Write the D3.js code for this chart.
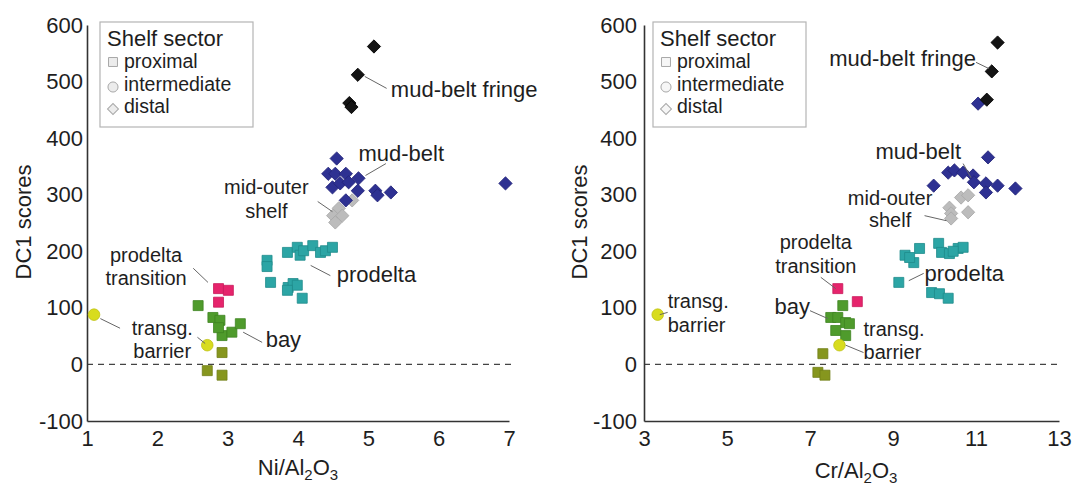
<!DOCTYPE html>
<html><head><meta charset="utf-8">
<script src="https://cdn.jsdelivr.net/npm/d3@7"></script>
<style>
body{margin:0;background:#fff}
svg text{font-family:"Liberation Sans",Arial,Helvetica,sans-serif;fill:#1e1e1e}
</style>
</head><body>
<svg id="c" width="1072" height="486"></svg>
<script>
// ---------- data ----------
const yTicks = [-100, 0, 100, 200, 300, 400, 500, 600];
const niTicks = [1, 2, 3, 4, 5, 6, 7];
const crTicks = [3, 5, 7, 9, 11, 13];
const legendLabels = ["proximal", "intermediate", "distal"];

// Ni/Al2O3 vs DC1 scores
const niFringe = [[5.08,562],[4.85,512],[4.73,462],[4.76,455]];
const niMudBelt = [[4.55,364],[4.43,337],[4.53,337],[4.68,337],[4.49,313],[4.60,320],[4.72,322],[4.86,329],[4.85,307],[4.68,290],[5.10,307],[5.13,299],[5.32,304],[6.95,320]];
const niMidOuter = [[4.77,290],[4.58,276],[4.50,263],[4.63,263],[4.53,251]];
const niProdelta = [[3.56,184],[3.56,173],[3.85,198],[3.99,207],[4.03,193],[4.08,201],[4.21,210],[4.32,198],[4.39,201],[4.49,207],[3.61,145],[3.86,136],[3.93,143],[3.99,140],[4.06,117],[3.85,131]];
const niTransition = [[2.87,134],[3.01,131],[2.87,110]];
const niBay = [[2.58,104],[2.79,83],[2.89,78],[2.92,51],[3.06,57],[3.18,72],[2.87,65]];
const niBayLow = [[2.92,21],[2.71,-11],[2.92,-19]];
const niBarrier = [[1.10,88],[2.71,34]];

// Cr/Al2O3 vs DC1 scores
const crFringe = [[11.52,569],[11.38,518],[11.26,468]];
const crMudBelt = [[11.05,461],[11.29,366],[10.33,339],[10.48,343],[10.69,339],[10.93,334],[10.95,322],[11.24,320],[11.24,304],[11.52,316],[11.95,311],[9.98,316]];
const crMidOuter = [[10.64,295],[10.81,299],[10.36,277],[10.40,267],[10.81,269],[10.40,258]];
const crProdelta = [[9.29,193],[9.50,180],[9.64,205],[9.40,189],[10.10,214],[10.17,198],[10.36,196],[10.57,205],[10.69,207],[10.45,200],[9.14,145],[9.93,127],[10.12,125],[10.33,117]];
const crTransition = [[7.67,134],[8.14,111]];
const crBay = [[7.79,104],[7.50,83],[7.67,83],[7.86,74],[7.95,72],[7.62,60],[7.86,51]];
const crBayLow = [[7.31,19],[7.19,-14],[7.36,-19]];
const crBarrier = [[3.33,88],[7.71,34]];

// annotation labels (in data units)
const niNotes = [
  {lines:["mud-belt fringe"], x:5.32, ys:[473], anchor:"start", leader:[[4.95,509],[5.26,488]]},
  {lines:["mud-belt"], x:4.86, ys:[360], anchor:"start", leader:[[4.96,334],[5.25,355]]},
  {lines:["mid-outer","shelf"], x:3.55, ys:[300.4,259.7], anchor:"middle", leader:[[4.28,288],[4.49,270]]},
  {lines:["prodelta"], x:4.55, ys:[145], anchor:"start", leader:[[4.18,175],[4.46,157]]},
  {lines:["prodelta","transition"], x:1.84, ys:[181.1,140.4], anchor:"middle", leader:[[2.51,170],[2.72,145]]},
  {lines:["transg.","barrier"], x:2.07, ys:[52.0,11.4], anchor:"middle", leader:[[1.19,81],[1.47,64]]},
  {lines:[], x:0, ys:[], anchor:"start", leader:[[2.57,48],[2.68,37]]},
  {lines:["bay"], x:3.54, ys:[30], anchor:"start", leader:[[3.22,57],[3.49,39]]}
];
const crNotes = [
  {lines:["mud-belt fringe"], x:11.0, ys:[528], anchor:"end", leader:[[11.0,534],[11.31,523]]},
  {lines:["mud-belt"], x:10.64, ys:[364], anchor:"end", leader:[[10.69,355],[10.88,330]]},
  {lines:["mid-outer","shelf"], x:8.93, ys:[282.7,242.1], anchor:"middle", leader:[[9.76,263],[10.29,254]]},
  {lines:["prodelta","transition"], x:7.14, ys:[203.2,162.5], anchor:"middle", leader:[[7.26,154],[7.62,134]]},
  {lines:["prodelta"], x:9.76, ys:[148], anchor:"start", leader:[[9.38,148],[9.74,161]]},
  {lines:["bay"], x:7.0, ys:[90], anchor:"end", leader:[[7.0,95],[7.43,81]]},
  {lines:["transg.","barrier"], x:8.29, ys:[50.3,9.6], anchor:"start", leader:[[7.86,34],[8.29,21]]},
  {lines:["transg.","barrier"], x:3.57, ys:[98.9,58.2], anchor:"start", leader:[[3.38,88],[3.57,92]]}
];

// ---------- styles ----------
const styles = {
  fringe:{shape:"diamond", fill:"#141414", stroke:"#000"},
  mudBelt:{shape:"diamond", fill:"#2e3192", stroke:"#23257a"},
  midOuter:{shape:"diamond", fill:"#bcbcbc", stroke:"#a8a8a8"},
  prodelta:{shape:"square", fill:"#2ca5a5", stroke:"#208c8c"},
  transition:{shape:"square", fill:"#e6246c", stroke:"#c81a5a"},
  bay:{shape:"square", fill:"#4f9b2c", stroke:"#3f8422"},
  bayLow:{shape:"square", fill:"#86961e", stroke:"#717f16"},
  barrier:{shape:"circle", fill:"#d8dc1e", stroke:"#bfc214"}
};
const FS = "22px";
const FS2 = "20px"; // two-line labels

const svg = d3.select("#c");
const symGen = {
  square: d3.symbol(d3.symbolSquare, 100)(),
  circle: d3.symbol(d3.symbolCircle, 105)(),
  diamond: d3.symbol(d3.symbolSquare, 88)()
};
const iconGen = {
  square: d3.symbol(d3.symbolSquare, 80)(),
  circle: d3.symbol(d3.symbolCircle, 80)(),
  diamond: d3.symbol(d3.symbolSquare, 60)()
};

function panel(p){
  const x = d3.scaleLinear().domain(p.xDomain).range(p.xRange);
  const y = d3.scaleLinear().domain([-100, 600]).range([421, 25]);
  const g = svg.append("g");

  // zero dashed line
  g.append("line").attr("x1", x.range()[0]).attr("x2", x.range()[1]+2)
    .attr("y1", y(0)).attr("y2", y(0))
    .attr("stroke", "#444").attr("stroke-width", 1.3).attr("stroke-dasharray", "6,5");

  // axes
  const fmt = d => String(d);
  const xa = d3.axisBottom(x).tickValues(p.xTicks).tickSize(0).tickSizeOuter(0).tickPadding(9).tickFormat(fmt);
  const ya = d3.axisLeft(y).tickValues(yTicks).tickSize(0).tickSizeOuter(0).tickPadding(p.padY).tickFormat(fmt);
  const gx = g.append("g").attr("transform", `translate(0,${y(-100)})`).call(xa);
  const gy = g.append("g").attr("transform", `translate(${x.range()[0]},0)`).call(ya);
  [gx, gy].forEach(a => {
    a.select(".domain").attr("stroke", "#333").attr("stroke-width", 1.6);
    a.selectAll("text").style("font-size", FS).attr("fill", "#1e1e1e");
  });

  // points
  p.series.forEach(s => {
    const st = styles[s.key];
    g.append("g").selectAll("path").data(s.data).join("path")
      .attr("d", symGen[st.shape])
      .attr("transform", d => `translate(${x(d[0])},${y(d[1])})` + (st.shape === "diamond" ? " rotate(45)" : ""))
      .attr("fill", st.fill).attr("stroke", st.stroke).attr("stroke-width", 0.8);
  });

  // annotations
  p.notes.forEach(n => {
    g.append("line")
      .attr("x1", x(n.leader[0][0])).attr("y1", y(n.leader[0][1]))
      .attr("x2", x(n.leader[1][0])).attr("y2", y(n.leader[1][1]))
      .attr("stroke", "#666").attr("stroke-width", 1);
    if (!n.lines.length) return;
    const t = g.append("text").attr("text-anchor", n.anchor)
      .style("font-size", n.lines.length > 1 ? FS2 : FS);
    n.lines.forEach((line, i) => {
      t.append("tspan").attr("x", x(n.x)).attr("y", y(n.ys[i])).text(line);
    });
  });

  // legend
  const lg = g.append("g").attr("transform", `translate(${x.range()[0] + p.legendDx},22)`);
  lg.append("rect").attr("width", 153).attr("height", 105).attr("fill", "#fff").attr("stroke", "#b4b4b4").attr("stroke-width", 1.2);
  lg.append("text").attr("x", 7).attr("y", 24).style("font-size", "22px").text("Shelf sector");
  const legendShapes = ["square", "circle", "diamond"];
  const iconY = [40, 65, 87];
  const textY = [46, 69, 91];
  legendLabels.forEach((lab, i) => {
    const sh = legendShapes[i];
    lg.append("path").attr("d", iconGen[sh])
      .attr("transform", `translate(13,${iconY[i]})` + (sh === "diamond" ? " rotate(45)" : ""))
      .attr("fill", p.iconFill).attr("stroke", "#a8a8a8").attr("stroke-width", 1);
    lg.append("text").attr("x", 24).attr("y", textY[i]).style("font-size", "19.5px").text(lab);
  });

  // axis titles
  svg.append("text").attr("transform", `translate(${p.yTitleX},222) rotate(-90)`)
    .attr("text-anchor", "middle").style("font-size", FS).text("DC1 scores");
  const xt = svg.append("text").attr("x", p.xTitleX).attr("y", p.xTitleY).attr("text-anchor", "middle").style("font-size", FS);
  xt.append("tspan").text(p.elem + "/Al");
  xt.append("tspan").attr("dy", 5).style("font-size", "15px").text("2");
  xt.append("tspan").attr("dy", -5).text("O");
  xt.append("tspan").attr("dy", 5).style("font-size", "15px").text("3");
}

panel({
  xDomain:[1,7], xRange:[87,509], xTicks:niTicks, padY:4, legendDx:13,
  iconFill:"#ececec", yTitleX:31, xTitleX:298, xTitleY:475, elem:"Ni",
  notes:niNotes,
  series:[
    {key:"midOuter", data:niMidOuter},
    {key:"mudBelt", data:niMudBelt},
    {key:"fringe", data:niFringe},
    {key:"prodelta", data:niProdelta},
    {key:"transition", data:niTransition},
    {key:"bay", data:niBay},
    {key:"bayLow", data:niBayLow},
    {key:"barrier", data:niBarrier}
  ]
});
panel({
  xDomain:[3,13], xRange:[644,1059], xTicks:crTicks, padY:7, legendDx:9,
  iconFill:"#f6f6f6", yTitleX:587, xTitleX:856, xTitleY:478, elem:"Cr",
  notes:crNotes,
  series:[
    {key:"midOuter", data:crMidOuter},
    {key:"mudBelt", data:crMudBelt},
    {key:"fringe", data:crFringe},
    {key:"prodelta", data:crProdelta},
    {key:"transition", data:crTransition},
    {key:"bay", data:crBay},
    {key:"bayLow", data:crBayLow},
    {key:"barrier", data:crBarrier}
  ]
});
</script>
</body></html>
